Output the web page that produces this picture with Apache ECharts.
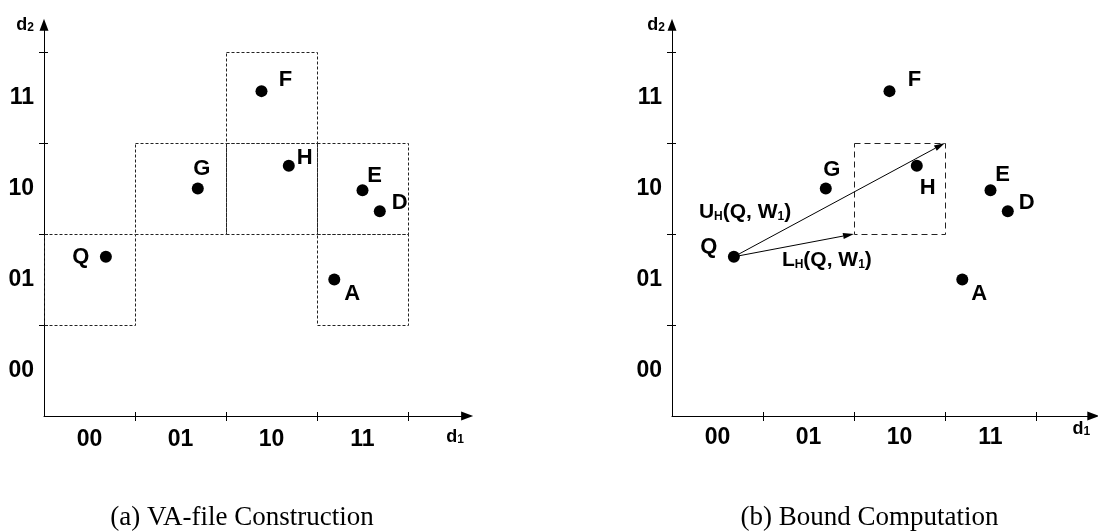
<!DOCTYPE html>
<html>
<head>
<meta charset="utf-8">
<script src="https://cdn.jsdelivr.net/npm/echarts@6/dist/echarts.min.js"></script>
<style>
  html, body { margin: 0; padding: 0; background: #fff; }
  #chart { width: 1098px; height: 532px; }
</style>
</head>
<body>
<div id="chart"></div>
<script>
// Points in the (d1, d2) feature space
const pointNames = ['A', 'D', 'E', 'F', 'G', 'H', 'Q'];
const d1Values   = [3.19, 3.69, 3.50, 2.39, 1.69, 2.69, 0.68];
const d2Values   = [1.50, 2.25, 2.48, 3.57, 2.50, 2.75, 1.75];

// 2-bit approximation codes for each partition along both axes
const codeLabels = ['00', '01', '10', '11'];
const partitionBounds = [1, 2, 3, 4];

// VA-file cells occupied by points (column, row)
const cellCols = [0, 1, 2, 2, 3, 3];
const cellRows = [1, 2, 2, 3, 2, 1];

// Cell W1 that holds H, used for the bound computation
const boundCell = [2, 2];

const captions = ['(a) VA-file Construction', '(b) Bound Computation'];

// ---- layout helpers (pixels per unit, panel origins) ----
const UNIT = 91;
const Y_MAX = 4.3;
const panels = [
  { left: 44,  xMax: 4.65, nameGapTop: 12, labelMargin: 12, yNamePad: 10, captionX: 242 },
  { left: 672, xMax: 4.63, nameGapTop: 4,  labelMargin: 10, yNamePad: 7,  captionX: 869.5 }
];
const ORIGIN_Y = 416;

const SANS = '"Liberation Sans", Arial, sans-serif';
const SERIF = '"Liberation Serif", "Times New Roman", serif';

// label offsets around each dot, per panel
const labelOffsets = [
  { A: [18, 14], D: [20, -8], E: [12, -14], F: [24, -11], G: [4, -20], H: [16, -8], Q: [-25, 0] },
  { A: [17, 14], D: [19, -8], E: [12, -15], F: [25, -11], G: [6, -19], H: [11, 22], Q: [-25, -10] }
];

// base text plus subscript, both sitting on the same bottom line
const subRich = {
  b: { fontFamily: SANS, fontWeight: 'bold', fontSize: 18, color: '#000', verticalAlign: 'bottom', lineHeight: 18 },
  s: { fontFamily: SANS, fontWeight: 'bold', fontSize: 12, color: '#000', verticalAlign: 'bottom', lineHeight: 14 }
};
const arrowRich = {
  b: { fontFamily: SANS, fontWeight: 'bold', fontSize: 21, fill: '#000', verticalAlign: 'bottom', lineHeight: 21 },
  s: { fontFamily: SANS, fontWeight: 'bold', fontSize: 12, fill: '#000', verticalAlign: 'bottom', lineHeight: 15 }
};

const grids = [], xAxes = [], yAxes = [], series = [], graphics = [];

panels.forEach(function (p, i) {
  grids.push({
    left: p.left,
    top: ORIGIN_Y - Y_MAX * UNIT,
    width: p.xMax * UNIT,
    height: Y_MAX * UNIT,
    containLabel: false,
    outerBoundsMode: 'none'
  });

  const axisLine = {
    show: true,
    onZero: false,
    symbol: ['none', 'triangle'],
    symbolSize: [9, 12],
    lineStyle: { color: '#000', width: 1 }
  };

  // main x axis: line, outer ticks, partition codes, name
  xAxes.push({
    gridIndex: i, type: 'value', position: 'bottom',
    min: 0, max: p.xMax, interval: 1,
    axisLine: axisLine,
    axisTick: { show: true, inside: false, length: 5, customValues: partitionBounds, lineStyle: { color: '#000' } },
    axisLabel: {
      show: true, margin: p.labelMargin, customValues: [0.5, 1.5, 2.5, 3.5],
      formatter: function (v) { return codeLabels[Math.floor(v)]; },
      fontFamily: SANS, fontWeight: 'bold', fontSize: 23, color: '#000'
    },
    splitLine: { show: false },
    name: '{b|d}{s|1}',
    nameLocation: 'end',
    nameGap: -12,
    nameTextStyle: { rich: subRich, align: 'center', verticalAlign: 'top', padding: [p.nameGapTop, 0, 0, 0] }
  });
  // companion x axis carrying the inner half of each tick
  xAxes.push({
    gridIndex: i, type: 'value', position: 'bottom',
    min: 0, max: p.xMax, interval: 1,
    axisLine: { show: false },
    axisTick: { show: true, inside: true, length: 4, customValues: partitionBounds, lineStyle: { color: '#000' } },
    axisLabel: { show: false },
    splitLine: { show: false }
  });

  yAxes.push({
    gridIndex: i, type: 'value', position: 'left',
    min: 0, max: Y_MAX, interval: 1,
    axisLine: axisLine,
    axisTick: { show: true, inside: false, length: 5, customValues: partitionBounds, lineStyle: { color: '#000' } },
    axisLabel: {
      show: true, margin: 10, customValues: [0.5, 1.5, 2.5, 3.5],
      formatter: function (v) { return codeLabels[Math.floor(v)]; },
      fontFamily: SANS, fontWeight: 'bold', fontSize: 23, color: '#000'
    },
    splitLine: { show: false },
    name: '{b|d}{s|2}',
    nameLocation: 'end',
    nameGap: 0,
    nameTextStyle: { rich: subRich, align: 'right', verticalAlign: 'middle', padding: [0, p.yNamePad, 0, 0] }
  });
  yAxes.push({
    gridIndex: i, type: 'value', position: 'left',
    min: 0, max: Y_MAX, interval: 1,
    axisLine: { show: false },
    axisTick: { show: true, inside: true, length: 4, customValues: partitionBounds, lineStyle: { color: '#000' } },
    axisLabel: { show: false },
    splitLine: { show: false }
  });

  const xi = i * 2, yi = i * 2;

  // dashed cell outlines
  const cellData = i === 0
    ? cellCols.map(function (c, k) { return [c, cellRows[k]]; })
    : [boundCell.slice()];
  const dash = i === 0 ? [3, 2] : [6, 4];
  series.push({
    type: 'custom',
    coordinateSystem: 'cartesian2d',
    xAxisIndex: xi, yAxisIndex: yi,
    clip: false,
    silent: true,
    data: cellData,
    encode: { x: 0, y: 1 },
    renderItem: function (params, api) {
      const c = api.value(0), r = api.value(1);
      const a = api.coord([c, r + 1]);
      const b = api.coord([c + 1, r]);
      const x0 = Math.round(a[0]) + 0.5, y0 = Math.round(a[1]) + 0.5;
      const x1 = Math.round(b[0]) + 0.5, y1 = Math.round(b[1]) + 0.5;
      return {
        type: 'rect',
        shape: { x: x0, y: y0, width: x1 - x0, height: y1 - y0 },
        style: { fill: 'none', stroke: '#222', lineWidth: 1, lineDash: dash }
      };
    }
  });

  // bound vectors from Q to the near and far corners of W1
  if (i === 1) {
    const q = pointNames.indexOf('Q');
    const arrowData = [
      [d1Values[q], d2Values[q], boundCell[0] + 1, boundCell[1] + 1, 0],
      [d1Values[q], d2Values[q], boundCell[0], boundCell[1], 1]
    ];
    const arrowText = ['{b|U}{s|H}{b|(Q, W}{s|1}{b|)}', '{b|L}{s|H}{b|(Q, W}{s|1}{b|)}'];
    const arrowTextOffset = [[-35, -45], [48, 3]];
    series.push({
      type: 'custom',
      coordinateSystem: 'cartesian2d',
      xAxisIndex: xi, yAxisIndex: yi,
      clip: false,
      silent: true,
      data: arrowData,
      encode: { x: [0, 2], y: [1, 3] },
      renderItem: function (params, api) {
        const p0 = api.coord([api.value(0), api.value(1)]);
        const p1 = api.coord([api.value(2), api.value(3)]);
        const k = api.value(4);
        const dx = p1[0] - p0[0], dy = p1[1] - p0[1];
        const len = Math.sqrt(dx * dx + dy * dy);
        const ux = dx / len, uy = dy / len;
        const headL = 11, headW = 3;
        const bx = p1[0] - ux * headL, by = p1[1] - uy * headL;
        return {
          type: 'group',
          children: [
            {
              type: 'line',
              shape: { x1: p0[0], y1: p0[1], x2: bx, y2: by },
              style: { stroke: '#000', lineWidth: 1 }
            },
            {
              type: 'polygon',
              shape: { points: [
                [p1[0], p1[1]],
                [bx - uy * headW, by + ux * headW],
                [bx + uy * headW, by - ux * headW]
              ] },
              style: { fill: '#000' }
            },
            {
              type: 'text',
              x: p0[0] + arrowTextOffset[k][0],
              y: p0[1] + arrowTextOffset[k][1],
              style: {
                text: arrowText[k], rich: arrowRich,
                align: 'left', verticalAlign: 'middle'
              }
            }
          ]
        };
      }
    });
  }

  // data points with their letters
  series.push({
    type: 'scatter',
    xAxisIndex: xi, yAxisIndex: yi,
    symbol: 'circle',
    symbolSize: 12,
    itemStyle: { color: '#000', opacity: 1 },
    emphasis: { disabled: true },
    silent: true,
    z: 5,
    label: {
      show: true, position: 'inside', formatter: '{b}',
      fontFamily: SANS, fontWeight: 'bold', fontSize: 22, color: '#000', opacity: 1
    },
    data: pointNames.map(function (n, k) {
      return {
        name: n,
        value: [d1Values[k], d2Values[k]],
        label: { offset: labelOffsets[i][n] }
      };
    })
  });

  graphics.push({
    type: 'text',
    x: p.captionX,
    y: 517.5,
    style: {
      text: captions[i],
      font: '27px ' + SERIF,
      fill: '#000',
      align: 'center',
      verticalAlign: 'middle'
    }
  });
});

const chart = echarts.init(document.getElementById('chart'), null, { renderer: 'canvas' });
chart.setOption({
  animation: false,
  backgroundColor: '#fff',
  grid: grids,
  xAxis: xAxes,
  yAxis: yAxes,
  series: series,
  graphic: graphics
});
</script>
</body>
</html>
